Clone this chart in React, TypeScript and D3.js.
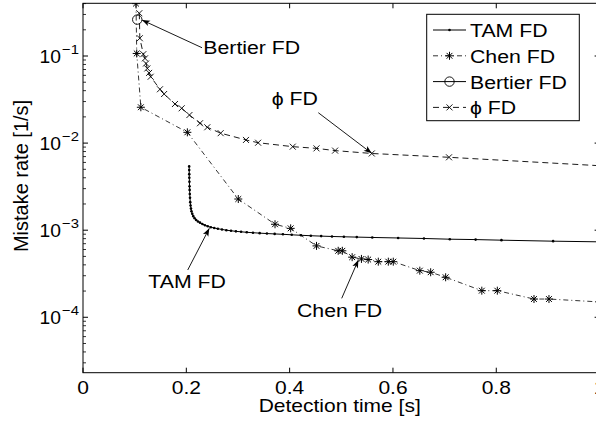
import React from 'react';
import * as d3 from 'd3';

const width = 596;
const height = 423;
const margin = { top: 3.3, left: 83, plotRight: 599.6, plotBottom: 372.7 };
const font = "'Liberation Sans', Arial, Helvetica, sans-serif";

// axis settings
const xDomain: [number, number] = [0, 1];
const yDomain: [number, number] = [2.31e-5, 0.403];
const xTicks = [0, 0.2, 0.4, 0.6, 0.8, 1];
const xTickLabels = ['0', '0.2', '0.4', '0.6', '0.8', '1'];
const yDecades = [-4, -3, -2, -1];

// series: [detection time, mistake rate]
const tamFD: [number, number][] = [
  [0.2055, 5.4e-3], [0.2056, 4.9e-3], [0.2057, 4.4e-3], [0.2058, 4.0e-3], [0.206, 3.6e-3],
  [0.2062, 3.2e-3], [0.2064, 2.9e-3], [0.2067, 2.6e-3], [0.2071, 2.35e-3], [0.2076, 2.1e-3],
  [0.2082, 1.92e-3], [0.209, 1.77e-3], [0.21, 1.65e-3], [0.2115, 1.54e-3], [0.2135, 1.45e-3],
  [0.216, 1.37e-3], [0.219, 1.31e-3], [0.2225, 1.26e-3], [0.2265, 1.22e-3], [0.231, 1.18e-3],
  [0.236, 1.14e-3], [0.2415, 1.11e-3], [0.2475, 1.08e-3], [0.254, 1.06e-3], [0.261, 1.04e-3],
  [0.269, 1.02e-3], [0.2775, 1.0e-3], [0.2865, 0.985e-3], [0.296, 0.97e-3], [0.306, 0.958e-3],
  [0.317, 0.946e-3], [0.329, 0.935e-3], [0.342, 0.925e-3], [0.356, 0.915e-3], [0.371, 0.906e-3],
  [0.387, 0.897e-3], [0.404, 0.885e-3], [0.422, 0.874e-3], [0.441, 0.864e-3], [0.461, 0.855e-3],
  [0.482, 0.847e-3], [0.505, 0.84e-3], [0.53, 0.833e-3], [0.56, 0.825e-3], [0.61, 0.814e-3],
  [0.66, 0.803e-3], [0.71, 0.788e-3], [0.76, 0.78e-3], [0.81, 0.768e-3], [0.91, 0.748e-3],
  [1.0, 0.735e-3],
];

const chenFD: [number, number][] = [
  [0.1026, 0.4], [0.104, 0.107], [0.112, 0.0258], [0.202, 0.0133], [0.3006, 2.28e-3],
  [0.3717, 1.17e-3], [0.402, 1.05e-3], [0.452, 6.6e-4], [0.494, 5.8e-4], [0.502, 5.8e-4],
  [0.521, 4.9e-4], [0.539, 4.68e-4], [0.552, 4.6e-4], [0.5716, 4.35e-4], [0.591, 4.35e-4],
  [0.6006, 4.35e-4], [0.652, 3.43e-4], [0.673, 3.29e-4], [0.702, 2.88e-4], [0.772, 2.02e-4],
  [0.802, 2.02e-4], [0.873, 1.62e-4], [0.902, 1.62e-4], [1.0, 1.5e-4],
];

const bertierFD: [number, number][] = [[0.105, 0.262]];

const phiFD: [number, number][] = [
  [0.109, 0.31], [0.11, 0.16], [0.1168, 0.105], [0.12, 0.094], [0.122, 0.082],
  [0.1245, 0.072], [0.128, 0.064], [0.131, 0.0578], [0.149, 0.0415], [0.157, 0.0366],
  [0.178, 0.0281], [0.191, 0.0251], [0.206, 0.021], [0.2265, 0.0169], [0.2406, 0.0152],
  [0.2665, 0.013], [0.3155, 0.01087], [0.339, 0.0101], [0.406, 0.0091], [0.452, 0.0087],
  [0.488, 0.0082], [0.559, 0.0076], [0.7085, 0.00687], [1.0, 0.0055],
];

const legendLabels = ['TAM FD', 'Chen FD', 'Bertier FD', '\u03D5 FD'];

// annotations: label position and arrow (from -> to), in data units
const annotations = [
  { label: 'Bertier FD', at: [0.2329, 0.1054], from: [0.2304, 0.1245], to: [0.1142, 0.259] },
  { label: '\u03D5 FD', at: [0.3653, 0.02738], from: [0.4555, 0.02233], to: [0.5589, 0.00764] },
  { label: 'TAM FD', at: [0.1264, 2.15e-4], from: [0.2027, 3.49e-4], to: [0.2445, 1.05e-3] },
  { label: 'Chen FD', at: [0.4142, 1.0e-4], from: [0.5008, 1.65e-4], to: [0.533, 4.55e-4] },
];

const styles: Record<string, { dash?: string; width: number }> = {
  tam: { width: 1 },
  chen: { dash: '5,3,1,3', width: 0.8 },
  bertier: { width: 1 },
  phi: { dash: '6,4', width: 0.9 },
};

const Marker = ({ kind, x, y }: { kind: string; x: number; y: number }) => {
  if (kind === 'tam') return <circle cx={x} cy={y} r={1.3} fill="black" />;
  if (kind === 'bertier') return <circle cx={x} cy={y} r={4.7} fill="none" stroke="black" strokeWidth={0.9} />;
  if (kind === 'chen')
    return (
      <path
        transform={`translate(${x},${y})`}
        d="M-4,0H4M0,-4V4M-2.9,-2.9L2.9,2.9M-2.9,2.9L2.9,-2.9"
        stroke="black"
        strokeWidth={1}
      />
    );
  return <path transform={`translate(${x},${y})`} d="M-3,-3L3,3M-3,3L3,-3" stroke="black" strokeWidth={0.9} />;
};

const Txt = ({ x, y, size, sx = 1, anchor = 'start', rotate = false, children }: any) => (
  <text
    transform={rotate ? `translate(${x},${y}) rotate(-90) scale(1,${sx})` : `translate(${x},${y}) scale(${sx},1)`}
    fontSize={size}
    fontFamily={font}
    textAnchor={anchor}
    fill="black"
  >
    {children}
  </text>
);

const Arrow = ({ x1, y1, x2, y2 }: { x1: number; y1: number; x2: number; y2: number }) => {
  const a = (Math.atan2(y2 - y1, x2 - x1) * 180) / Math.PI;
  return (
    <g>
      <line x1={x1} y1={y1} x2={x2} y2={y2} stroke="black" strokeWidth={0.9} />
      <path transform={`translate(${x2},${y2}) rotate(${a})`} d="M0,0L-8,-3L-6,0L-8,3Z" fill="black" />
    </g>
  );
};

export default function App() {
  const x = d3.scaleLinear().domain(xDomain).range([margin.left, margin.plotRight]);
  const y = d3.scaleLog().domain(yDomain).range([margin.plotBottom, margin.top]);
  const line = d3
    .line<[number, number]>()
    .x(d => x(d[0]))
    .y(d => y(d[1]));

  const series = [
    { key: 'tam', data: tamFD },
    { key: 'chen', data: chenFD },
    { key: 'bertier', data: bertierFD },
    { key: 'phi', data: phiFD },
  ];

  const minor: number[] = [];
  for (let e = -5; e <= 0; e++)
    for (let k = 2; k <= 9; k++) {
      const v = k * Math.pow(10, e);
      if (v > yDomain[0] && v < yDomain[1]) minor.push(v);
    }

  const L = margin.left;
  const R = margin.plotRight;
  const T = margin.top;
  const B = margin.plotBottom;
  const axisSize = 17.5;
  const axisSx = 1.2;
  const noteSize = 19;
  const noteSx = 1.12;
  const legend = { x: 426.7, y: 14.3, w: 152.6, h: 106.4, row0: 30, rowH: 25.8 };

  return (
    <svg width={width} height={height} style={{ position: 'absolute', left: 0, top: 0, background: 'white' }}>
      <defs>
        <clipPath id="plot">
          <rect x={L} y={T} width={R - L} height={B - T} />
        </clipPath>
      </defs>
      <rect width={width} height={height} fill="white" />

      {/* series */}
      <g clipPath="url(#plot)">
        {series.map(s => (
          <g key={s.key}>
            <path
              d={line(s.data) || ''}
              fill="none"
              stroke="black"
              strokeWidth={styles[s.key].width}
              strokeDasharray={styles[s.key].dash}
            />
            {s.data.map((d, i) => (
              <Marker key={i} kind={s.key} x={x(d[0])} y={y(d[1])} />
            ))}
          </g>
        ))}
      </g>

      {/* axes box and ticks */}
      <rect x={L} y={T} width={R - L} height={B - T} fill="none" stroke="black" strokeWidth={1} />
      {xTicks.map((t, i) => (
        <g key={t}>
          <line x1={x(t)} x2={x(t)} y1={B} y2={B - 5} stroke="black" />
          <line x1={x(t)} x2={x(t)} y1={T} y2={T + 5} stroke="black" />
          <Txt x={x(t)} y={394.3} size={axisSize} sx={axisSx} anchor="middle">
            {xTickLabels[i]}
          </Txt>
        </g>
      ))}
      {yDecades.map(e => {
        const ty = y(Math.pow(10, e));
        return (
          <g key={e}>
            <line x1={L} x2={L + 5} y1={ty} y2={ty} stroke="black" />
            <line x1={R} x2={R - 5} y1={ty} y2={ty} stroke="black" />
            <Txt x={61} y={ty + 6.7} size={axisSize} sx={1.1} anchor="end">
              10
            </Txt>
            <Txt x={62} y={ty - 2.5} size={13.5} sx={1.1}>
              {'\u2212' + Math.abs(e)}
            </Txt>
          </g>
        );
      })}
      {minor.map(v => (
        <g key={v}>
          <line x1={L} x2={L + 3} y1={y(v)} y2={y(v)} stroke="black" strokeWidth={0.8} />
          <line x1={R} x2={R - 3} y1={y(v)} y2={y(v)} stroke="black" strokeWidth={0.8} />
        </g>
      ))}

      {/* axis labels */}
      <Txt x={339.7} y={411.7} size={axisSize} sx={axisSx} anchor="middle">
        Detection time [s]
      </Txt>
      <Txt x={28} y={176} size={20} sx={1.05} anchor="middle" rotate>
        Mistake rate [1/s]
      </Txt>

      {/* annotations */}
      {annotations.map(a => (
        <g key={a.label}>
          <Arrow x1={x(a.from[0])} y1={y(a.from[1])} x2={x(a.to[0])} y2={y(a.to[1])} />
          <Txt x={x(a.at[0])} y={y(a.at[1])} size={noteSize} sx={noteSx}>
            {a.label}
          </Txt>
        </g>
      ))}

      {/* legend */}
      <rect x={legend.x} y={legend.y} width={legend.w} height={legend.h} fill="white" stroke="black" strokeWidth={1} />
      {series.map((s, i) => {
        const ry = legend.row0 + legend.rowH * i;
        return (
          <g key={s.key}>
            <line
              x1={433}
              x2={466}
              y1={ry}
              y2={ry}
              stroke="black"
              strokeWidth={styles[s.key].width}
              strokeDasharray={styles[s.key].dash}
            />
            <Marker kind={s.key} x={449.5} y={ry} />
            <Txt x={470} y={ry + 7} size={noteSize} sx={noteSx}>
              {legendLabels[i]}
            </Txt>
          </g>
        );
      })}
    </svg>
  );
}
